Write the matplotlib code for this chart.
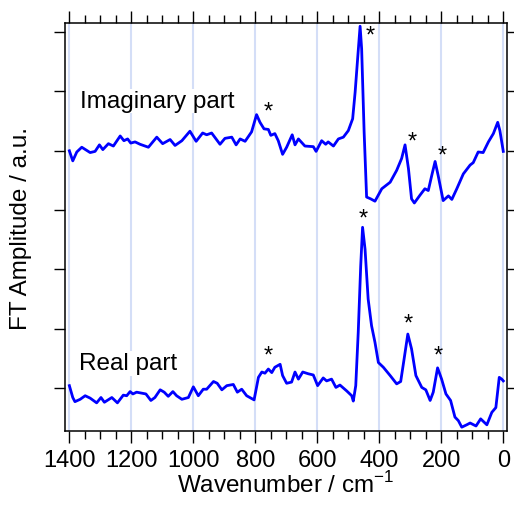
import numpy as np
import matplotlib
matplotlib.use("Agg")
import matplotlib.pyplot as plt

plt.rcParams["font.family"] = ["Liberation Sans", "DejaVu Sans"]
plt.rcParams["mathtext.fontset"] = "custom"
plt.rcParams["mathtext.rm"] = "Liberation Sans"

# Imaginary part (relative to its own baseline)
imag_wn = [1400, 1389, 1376, 1360, 1333, 1317, 1303, 1292, 1274, 1258, 1236, 1224,
           1212, 1202, 1188, 1172, 1145, 1118, 1099, 1075, 1059, 1037, 1011, 991,
           970, 957, 941, 914, 898, 876, 862, 849, 833, 812, 796, 785, 772, 758,
           750, 737, 726, 712, 699, 681, 672, 661, 640, 613, 604, 586, 573, 565,
           548, 532, 516, 500, 486, 478, 470, 462, 457, 449, 441, 428, 414, 392,
           365, 344, 328, 317, 306, 296, 287, 269, 253, 242, 231, 220, 210, 194,
           177, 166, 150, 129, 107, 97, 81, 65, 48, 32, 18, 11, 0]
imag_amp = [0.00, -0.17, -0.02, 0.06, -0.03, -0.01, 0.10, 0.02, 0.12, 0.08, 0.25, 0.17,
            0.20, 0.13, 0.15, 0.11, 0.06, 0.23, 0.12, 0.19, 0.09, 0.17, 0.33, 0.16,
            0.30, 0.27, 0.30, 0.11, 0.21, 0.23, 0.10, 0.20, 0.16, 0.32, 0.61, 0.48,
            0.37, 0.36, 0.26, 0.29, 0.17, -0.06, 0.06, 0.27, 0.10, 0.20, 0.08, 0.07,
            -0.01, 0.17, 0.11, 0.15, 0.08, 0.20, 0.23, 0.34, 0.54, 0.99, 1.55, 2.10,
            1.72, 0.32, -0.78, -0.81, -0.85, -0.64, -0.53, -0.33, -0.13, 0.10, -0.30,
            -0.81, -0.88, -0.75, -0.64, -0.67, -0.42, -0.18, -0.42, -0.84, -0.76,
            -0.82, -0.64, -0.39, -0.24, -0.20, -0.02, -0.03, 0.15, 0.29, 0.48, 0.34,
            -0.01]

# Real part
real_wn = [1400, 1389, 1382, 1365, 1349, 1333, 1312, 1298, 1287, 1263, 1245, 1226,
           1215, 1204, 1195, 1183, 1153, 1137, 1124, 1107, 1094, 1081, 1066, 1054,
           1037, 1016, 1000, 984, 968, 957, 935, 923, 908, 892, 871, 858, 844, 828,
           804, 790, 779, 769, 758, 747, 737, 720, 712, 699, 683, 672, 661, 647,
           629, 613, 599, 581, 570, 554, 540, 527, 505, 489, 484, 476, 468, 460,
           454, 446, 436, 425, 414, 403, 387, 365, 344, 331, 320, 308, 296, 282,
           263, 250, 236, 226, 212, 199, 185, 170, 156, 145, 134, 118, 107, 88,
           73, 53, 37, 24, 13, 5, 0]
real_amp = [0.04, -0.16, -0.23, -0.19, -0.13, -0.17, -0.25, -0.16, -0.24, -0.16, -0.25,
            -0.12, -0.13, -0.06, -0.10, -0.07, -0.10, -0.21, -0.16, -0.03, -0.07, -0.14,
            -0.06, -0.13, -0.19, -0.16, 0.02, -0.13, -0.02, -0.02, 0.11, 0.08, -0.03,
            0.04, 0.06, -0.07, -0.02, -0.13, -0.20, 0.18, 0.27, 0.25, 0.32, 0.26, 0.35,
            0.40, 0.21, 0.08, 0.10, 0.27, 0.15, 0.27, 0.24, 0.22, 0.04, 0.17, 0.12,
            0.15, 0.01, 0.05, -0.05, -0.13, -0.22, 0.04, 0.94, 2.06, 2.71, 2.34, 1.50,
            1.05, 0.77, 0.43, 0.35, 0.21, 0.07, 0.11, 0.49, 0.91, 0.66, 0.21, 0.01,
            -0.03, -0.21, -0.07, 0.34, 0.15, -0.10, -0.21, -0.49, -0.55, -0.66, -0.62,
            -0.59, -0.64, -0.52, -0.62, -0.41, -0.33, 0.18, 0.15, 0.12]

imag_offset = 4.0

# asterisk marks (wavenumber, height on plot)
imag_star_wn = [759, 430, 294, 198]
imag_star_y = [4.66, 5.94, 4.15, 3.92]
real_star_wn = [759, 453, 307, 211]
real_star_y = [0.54, 2.85, 1.08, 0.54]

xticks = [1400, 1200, 1000, 800, 600, 400, 200, 0]

fig = plt.figure(figsize=(5.14, 5.06), dpi=100)
ax = fig.add_axes([0.1265, 0.1462, 0.8599, 0.8064])

blue = "#0000ff"
ax.plot(imag_wn, np.array(imag_amp) + imag_offset, color=blue, lw=2.0, zorder=4,
        solid_joinstyle="round")
ax.plot(real_wn, real_amp, color=blue, lw=2.0, zorder=4, solid_joinstyle="round")

for xs, ys in [(imag_star_wn, imag_star_y), (real_star_wn, real_star_y)]:
  for xv, yv in zip(xs, ys):
    ax.text(xv, yv, "*", fontsize=17, ha="center", va="center", zorder=5)

ax.text(1365, 4.84, "Imaginary part", fontsize=17.5, ha="left", va="center",
        zorder=3, bbox=dict(facecolor="white", edgecolor="none", pad=1))
ax.text(1369, 0.42, "Real part", fontsize=17.5, ha="left", va="center",
        zorder=3, bbox=dict(facecolor="white", edgecolor="none", pad=1))

ax.set_xlim(1414, -12)
ax.set_ylim(-0.725, 6.155)
ax.set_xticks(xticks)
ax.set_xticks(np.arange(0, 1401, 50), minor=True)
ax.set_yticks(np.arange(0, 7))
ax.set_yticklabels([])
ax.grid(axis="x", which="major", color="#d4def7", lw=1.5, zorder=0)
ax.set_axisbelow(True)

ax.tick_params(axis="x", which="major", direction="out", length=8.6, width=1,
               top=True, labelsize=17, pad=4)
ax.tick_params(axis="x", which="minor", direction="out", length=5.5, width=1, top=True)
ax.tick_params(axis="y", which="major", direction="out", length=8, width=1,
               right=True)
for sp in ax.spines.values():
  sp.set_linewidth(1.1)

ax.set_xlabel("Wavenumber / cm$^{-1}$", fontsize=17.5, labelpad=0)
ax.set_ylabel("FT Amplitude / a.u.", fontsize=17.5, labelpad=12)

fig.savefig("out.png", dpi=100)
